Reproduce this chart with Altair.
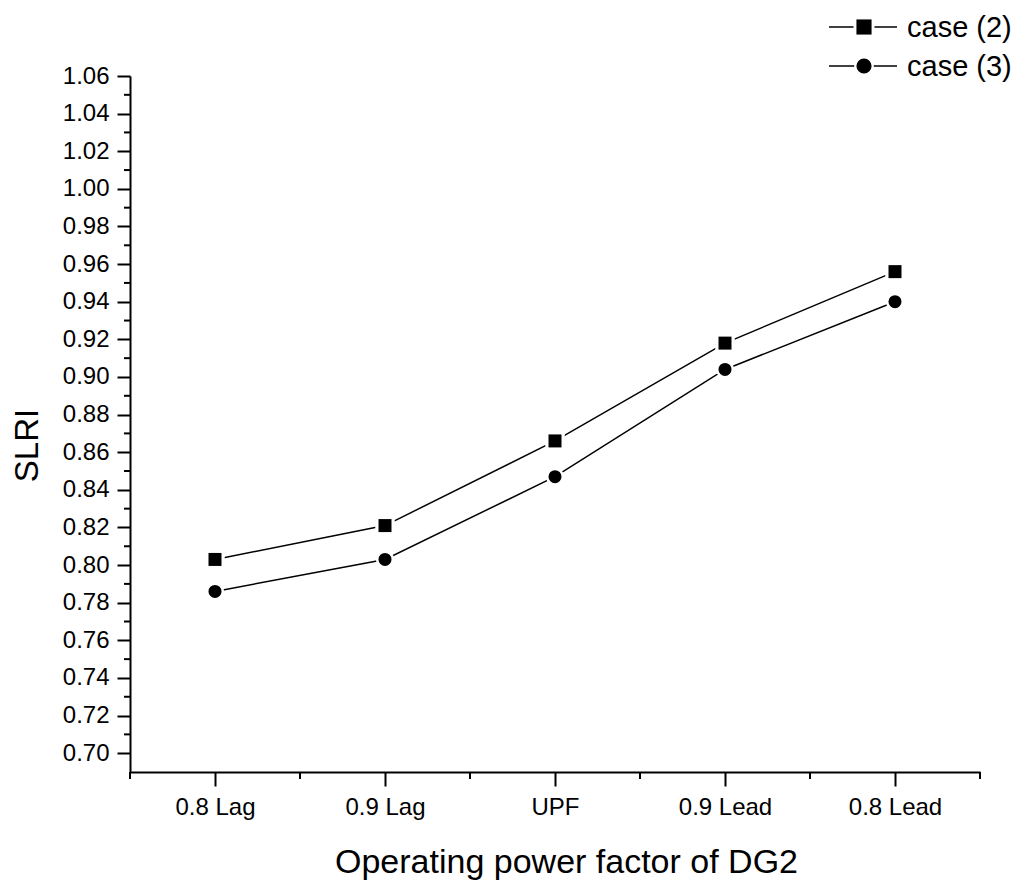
import json

import altair as alt
import pandas as pd

# Values of the sensitivity index for each DG2 power factor setting
categories = ["0.8 Lag", "0.9 Lag", "UPF", "0.9 Lead", "0.8 Lead"]
series_names = ["case (2)", "case (3)"]
case2 = [0.803, 0.821, 0.866, 0.918, 0.956]
case3 = [0.786, 0.803, 0.847, 0.904, 0.940]
y_ticks = [round(0.70 + 0.02 * k, 2) for k in range(19)]
y_minor = [round(0.71 + 0.02 * k, 2) for k in range(18)]
x_minor = [i - 0.5 for i in range(len(categories) + 1)]
marker_shapes = ["square", "circle"]
marker_sizes = [169, 170]
halo_sizes = [380, 330]

W, H = 850, 696
FONT = "Liberation Sans"

rows = []
for name, vals in zip(series_names, [case2, case3]):
    for i, (c, v) in enumerate(zip(categories, vals)):
        rows.append({"series": name, "idx": i, "pf": c, "slri": v})
df = pd.DataFrame(rows)

x_scale = alt.Scale(domain=[-0.5, len(categories) - 0.5], nice=False, zero=False)
y_scale = alt.Scale(domain=[0.69, 1.06], nice=False, zero=False)

x_axis = alt.Axis(
    values=list(range(len(categories))),
    labelExpr=json.dumps(categories) + "[round(datum.value)]",
    title="Operating power factor of DG2",
    grid=False,
    domainColor="black", domainWidth=2,
    tickColor="black", tickWidth=2, tickSize=14,
    labelFont=FONT, labelFontSize=24, labelColor="black", labelPadding=9,
    labelFlush=False, labelOverlap=False,
    titleFont=FONT, titleFontSize=34, titleFontWeight="normal", titleColor="black",
    titleBaseline="alphabetic", titleY=100, titleX=436,
)
y_axis = alt.Axis(
    values=y_ticks,
    format=".2f",
    title="SLRI",
    grid=False,
    domainColor="black", domainWidth=2,
    tickColor="black", tickWidth=2, tickSize=13,
    labelFont=FONT, labelFontSize=24, labelColor="black", labelPadding=8,
    labelFlush=False, labelOverlap=False,
    titleFont=FONT, titleFontSize=33, titleFontWeight="normal", titleColor="black",
    titleAngle=270, titleAlign="center", titleBaseline="alphabetic",
    titleX=-93, titleY=369,
)

x_enc = alt.X("idx:Q", scale=x_scale, axis=x_axis)
y_enc = alt.Y("slri:Q", scale=y_scale, axis=y_axis)

# minor ticks between the categories and between the labelled values
xm = alt.Chart(pd.DataFrame({"idx": x_minor})).mark_rule(color="black", strokeWidth=2).encode(
    x=x_enc, y=alt.value(H), y2=alt.value(H + 7)
)
ym = alt.Chart(pd.DataFrame({"slri": y_minor})).mark_rule(color="black", strokeWidth=2).encode(
    y=y_enc, x=alt.value(0), x2=alt.value(-6)
)

layers = [xm, ym]
for k, name in enumerate(series_names):
    part = alt.Chart(df[df["series"] == name])
    layers.append(part.mark_line(color="black", strokeWidth=1.5).encode(x=x_enc, y=y_enc))
for k, name in enumerate(series_names):
    part = alt.Chart(df[df["series"] == name])
    # white halo so the connecting lines stop short of each marker
    layers.append(
        part.mark_point(filled=True, color="white", opacity=1,
                        shape=marker_shapes[k], size=halo_sizes[k]).encode(x=x_enc, y=y_enc)
    )
    layers.append(
        part.mark_point(filled=True, color="black", opacity=1,
                        shape=marker_shapes[k], size=marker_sizes[k]).encode(x=x_enc, y=y_enc)
    )

# legend in the top right corner: short line with the marker, then the name
for k, name in enumerate(series_names):
    row = alt.Chart(pd.DataFrame({"series": [name]}))
    yk = -49 + 39 * k
    layers.append(row.mark_rule(color="black", strokeWidth=1.5).encode(
        x=alt.value(699), x2=alt.value(767), y=alt.value(yk)))
    layers.append(row.mark_point(filled=True, color="white", opacity=1,
                                 shape=marker_shapes[k], size=halo_sizes[k] + 60).encode(
        x=alt.value(734), y=alt.value(yk)))
    layers.append(row.mark_point(filled=True, color="black", opacity=1,
                                 shape=marker_shapes[k], size=marker_sizes[k] + 60).encode(
        x=alt.value(734), y=alt.value(yk)))
    layers.append(row.mark_text(font=FONT, fontSize=29, color="black", align="left",
                                baseline="middle").encode(
        x=alt.value(777), y=alt.value(yk + 1), text="series:N"))

chart = (
    alt.layer(*layers)
    .properties(
        width=W, height=H,
        padding={"left": 130, "top": 76, "right": 41, "bottom": 110},
        autosize=alt.AutoSizeParams(type="none"),
        background="white",
    )
    .configure_view(stroke=None)
)

chart.save("out.html", embed_options={"renderer": "svg", "actions": False})
